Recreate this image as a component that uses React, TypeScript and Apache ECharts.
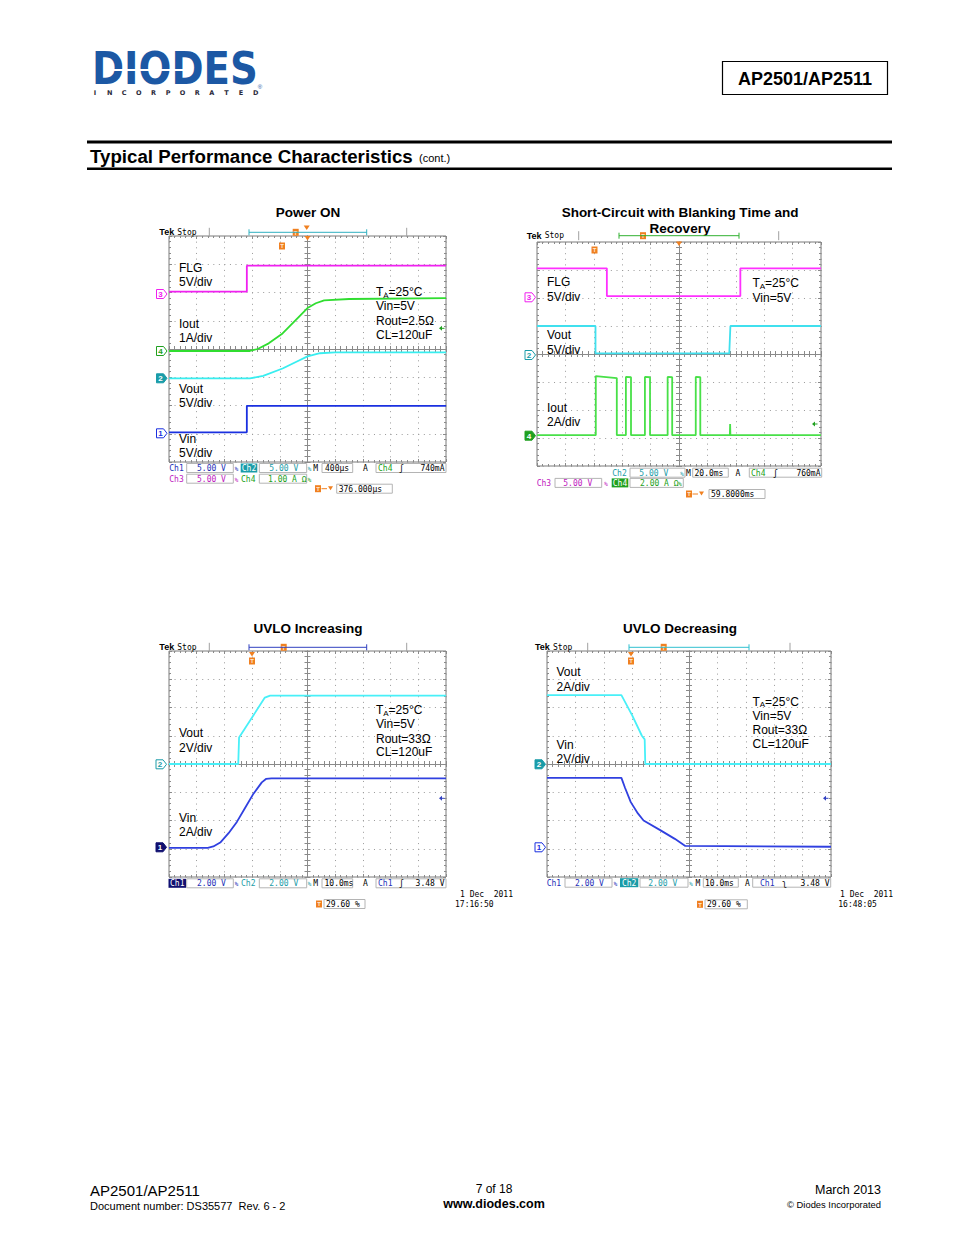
import React, { useEffect, useRef } from 'react';
import * as echarts from 'echarts';

// ===== Trace data, in graticule divisions measured from the screen centre =====
// Power ON  (M 400 µs/div)
const powerOnFlgT = [-5, -2.19, -2.19, 5];
const powerOnFlgV = [2.03, 2.03, 2.95, 2.95];
const powerOnIoutT = [-5, -2.08, -1.8, -1.4, -0.9, -0.4, 0, 0.3, 0.6, 1.5, 5];
const powerOnIoutV = [-0.07, -0.07, 0.0, 0.2, 0.55, 1.05, 1.45, 1.62, 1.72, 1.77, 1.8];
const powerOnVoutT = [-5, -2.08, -1.6, -0.9, -0.4, 0, 0.45, 1, 5];
const powerOnVoutV = [-1.04, -1.04, -0.95, -0.69, -0.45, -0.26, -0.15, -0.12, -0.12];
const powerOnVinT = [-5, -2.19, -2.19, 5];
const powerOnVinV = [-2.95, -2.95, -2.01, -2.01];

// Short-circuit with blanking time and recovery  (M 20.0 ms/div)
const scFlgT = [-5, -2.54, -2.54, 2.16, 2.16, 5];
const scFlgV = [3.06, 3.06, 2.07, 2.07, 3.06, 3.06];
const scVoutT = [-5, -2.94, -2.94, 1.77, 1.81, 5];
const scVoutV = [1.0, 1.0, 0.02, 0.02, 1.0, 1.0];
const scIoutT = [-5, -2.93, -2.93, -2.19, -2.19, -1.87, -1.87, -1.69, -1.69, -1.2, -1.2, -1.02, -1.02,
  -0.4, -0.4, -0.24, -0.24, 0.59, 0.59, 0.75, 0.75, 1.79, 1.8, 1.81, 5];
const scIoutV = [-2.9, -2.9, -0.79, -0.86, -2.9, -2.9, -0.82, -0.83, -2.9, -2.9, -0.82, -0.83, -2.9,
  -2.9, -0.82, -0.83, -2.9, -2.9, -0.82, -0.83, -2.9, -2.9, -2.5, -2.9, -2.9];

// UVLO increasing  (M 10.0 ms/div)
const uvloIncVoutT = [-5, -2.5, -2.47, -1.54, -1.35, 5];
const uvloIncVoutV = [0, 0, 0.94, 2.35, 2.42, 2.42];
const uvloIncVinT = [-5, -3.6, -3.4, -3.15, -2.85, -2.55, -2.25, -1.95, -1.65, -1.5, -1.3, 5];
const uvloIncVinV = [-2.97, -2.97, -2.92, -2.78, -2.45, -2.05, -1.55, -1.05, -0.65, -0.53, -0.51, -0.51];

// UVLO decreasing  (M 10.0 ms/div)
const uvloDecVoutT = [-5, -2.38, -2.0, -1.66, -1.56, -1.54, 5];
const uvloDecVoutV = [2.44, 2.44, 1.72, 1.0, 0.87, 0.0, 0.0];
const uvloDecVinT = [-5, -2.38, -2.25, -2.05, -1.8, -1.6, -1.0, -0.5, -0.13, 5];
const uvloDecVinV = [-0.49, -0.49, -0.85, -1.35, -1.75, -2.0, -2.35, -2.65, -2.9, -2.93];

// ===== Styling =====
const SANS = '"Liberation Sans", Arial, Helvetica, sans-serif';
const MONO = '"DejaVu Sans Mono", "Liberation Mono", monospace';
const MAGENTA = '#f020f0';
const GREEN = '#30dd30';
const CYAN = '#38eef0';
const BLUE = '#1a30e0';
const TEAL = '#1a9ca8';
const RD_BLUE = '#1c2fb8';
const RD_MAG = '#c020c0';
const RD_GREEN = '#20a020';
const NAVY = '#101070';
const ORANGE = '#f08020';
const GRAY = '#8a8a8a';

const scopeRects = [
  { left: 169, top: 236, width: 277, height: 226 },
  { left: 537, top: 242, width: 284, height: 224 },
  { left: 169, top: 651, width: 277, height: 226 },
  { left: 547, top: 651, width: 284, height: 226 },
];

const scopeTraces = [
  [
    { t: powerOnFlgT, v: powerOnFlgV, color: MAGENTA },
    { t: powerOnIoutT, v: powerOnIoutV, color: GREEN },
    { t: powerOnVoutT, v: powerOnVoutV, color: CYAN },
    { t: powerOnVinT, v: powerOnVinV, color: BLUE },
  ],
  [
    { t: scFlgT, v: scFlgV, color: '#ff30ff' },
    { t: scVoutT, v: scVoutV, color: '#40e0ee' },
    { t: scIoutT, v: scIoutV, color: '#48e048' },
  ],
  [
    { t: uvloIncVoutT, v: uvloIncVoutV, color: '#48f0f8' },
    { t: uvloIncVinT, v: uvloIncVinV, color: '#3040e0' },
  ],
  [
    { t: uvloDecVoutT, v: uvloDecVoutV, color: '#48f0f8' },
    { t: uvloDecVinT, v: uvloDecVinV, color: '#3040e0' },
  ],
];

const pairs = (t: number[], v: number[]) => t.map((x, i) => [x, v[i]]);

function buildAxes() {
  const grid: any[] = [];
  const xAxis: any[] = [];
  const yAxis: any[] = [];
  const tickStyle = { color: GRAY, width: 1 };
  scopeRects.forEach((r, s) => {
    const g0 = 2 * s;
    const g1 = 2 * s + 1;
    grid.push({ ...r, show: false });
    grid.push({ ...r, show: true, borderColor: '#7a7a7a', borderWidth: 1, backgroundColor: 'transparent' });
    const dx = r.width / 10 / 5 - 1;
    const dy = r.height / 8 / 5 - 1;
    const centre = (pos: string, isX: boolean, split: boolean, gi: number) => ({
      type: 'value', gridIndex: gi, position: pos,
      min: isX ? -5 : -4, max: isX ? 5 : 4, interval: 1,
      axisLine: { show: true, onZero: true, lineStyle: { color: GRAY, width: 1 } },
      axisTick: { show: true, length: 3, lineStyle: tickStyle },
      minorTick: { show: true, splitNumber: 5, length: 3, lineStyle: tickStyle },
      axisLabel: { show: false },
      splitLine: { show: split, lineStyle: { color: '#9a9a9a', width: 1, type: [1, isX ? dy : dx] } },
    });
    const edge = (pos: string, isX: boolean, gi: number) => ({
      type: 'value', gridIndex: gi, position: pos,
      min: isX ? -5 : -4, max: isX ? 5 : 4, interval: 1,
      axisLine: { show: false, onZero: false },
      axisTick: { show: true, inside: true, length: 3, lineStyle: tickStyle },
      minorTick: { show: true, splitNumber: 5, length: 2, lineStyle: tickStyle },
      axisLabel: { show: false },
      splitLine: { show: false },
    });
    xAxis.push(centre('bottom', true, true, g0), centre('top', true, false, g0), edge('bottom', true, g1), edge('top', true, g1));
    yAxis.push(centre('left', false, true, g0), centre('right', false, false, g0), edge('left', false, g1), edge('right', false, g1));
  });
  return { grid, xAxis, yAxis };
}

function buildSeries() {
  const series: any[] = [];
  scopeTraces.forEach((traces, s) => {
    traces.forEach((tr) => {
      series.push({
        type: 'line', xAxisIndex: 4 * s, yAxisIndex: 4 * s,
        data: pairs(tr.t, tr.v), showSymbol: false, symbol: 'none', silent: true, z: 5, clip: true,
        lineStyle: { color: tr.color, width: 1.8 },
      });
    });
  });
  return series;
}

function buildGraphics() {
  const G: any[] = [];
  const text = (x: number, y: number, s: string, font: string, fill = '#000', align = 'left', extra: any = {}) =>
    G.push({ type: 'text', x, y, z: 100, silent: true, ...extra,
      style: { text: s, font, fill, textAlign: align, textVerticalAlign: 'middle' } });
  const box = (x: number, y: number, w: number, h: number, stroke: string, fill: string, lw = 1) =>
    G.push({ type: 'rect', z: 99, silent: true, shape: { x, y, width: w, height: h }, style: { stroke, fill, lineWidth: lw } });
  const seg = (x1: number, y1: number, x2: number, y2: number, stroke: string, lw = 1) =>
    G.push({ type: 'line', z: 101, silent: true, shape: { x1, y1, x2, y2 }, style: { stroke, lineWidth: lw } });
  const poly = (pts: number[][], fill: string, stroke = 'none') =>
    G.push({ type: 'polygon', z: 100, silent: true, shape: { points: pts }, style: { fill, stroke, lineWidth: 1 } });

  const F12 = `12px ${SANS}`;
  const R8 = `8px ${MONO}`;

  const ta = (x: number, y: number) => {
    text(x, y, 'T', F12);
    text(x + 7.3, y + 3, 'A', `8px ${SANS}`);
    text(x + 12.6, y, '=25°C', F12);
  };
  const chMark = (cx: number, cy: number, d: string, color: string, filled: boolean) => {
    poly([[cx - 4.5, cy - 4.5], [cx + 2.5, cy - 4.5], [cx + 6, cy], [cx + 2.5, cy + 4.5], [cx - 4.5, cy + 4.5]],
      filled ? color : '#fff', color);
    text(cx - 0.5, cy + 0.5, d, `bold 8px ${SANS}`, filled ? '#fff' : color, 'center');
  };
  const orangeT = (cx: number, cy: number) => {
    box(cx - 3, cy - 3.5, 6, 7, 'none', ORANGE);
    text(cx, cy + 0.3, 'T', `bold 6px ${SANS}`, '#ffe8d0', 'center');
  };
  const downTri = (cx: number, cy: number) => poly([[cx - 3, cy - 2.5], [cx + 3, cy - 2.5], [cx, cy + 2]], ORANGE);
  const trigArrow = (x: number, y: number, color: string) => {
    poly([[x - 3, y], [x, y - 2.5], [x, y + 2.5]], color);
    seg(x, y, x + 2.5, y, color);
  };
  const header = (tekX: number, y: number, t1: number, t2: number, b1: number, b2: number, bc: string, tX: number) => {
    text(tekX, y, 'Tek', `bold 9px ${SANS}`);
    text(tekX + 18, y, 'Stop', R8);
    seg(t1, y - 4.5, t1, y + 4.5, '#a0a0a0');
    seg(t2, y - 4.5, t2, y + 4.5, '#a0a0a0');
    seg(b1, y - 3, b1, y + 3, bc);
    seg(b2, y - 3, b2, y + 3, bc);
    seg(b1, y, b2, y, bc);
    orangeT(tX, y);
  };
  const rbox = (x1: number, x2: number, yc: number) => box(x1, yc - 4.5, x2 - x1, 9, '#b4b4b4', '#fff');
  const rt = (x: number, yc: number, s: string, fill: string, align = 'left') => text(x, yc + 0.5, s, R8, fill, align);
  const bw = (x: number, yc: number, fill: string) => text(x, yc + 0.5, '%', `6px ${MONO}`, fill, 'center');
  const rfill = (x1: number, x2: number, yc: number, s: string, bg: string) => {
    box(x1, yc - 4.5, x2 - x1, 9, 'none', bg);
    rt((x1 + x2) / 2, yc, s, '#fff', 'center');
  };
  const tRow = (tx: number, yc: number, b1: number, b2: number, s: string, arrow: boolean) => {
    orangeT(tx, yc);
    if (arrow) {
      seg(tx + 3.5, yc, tx + 9, yc, ORANGE);
      poly([[tx + 10, yc - 2.5], [tx + 15, yc - 2.5], [tx + 12.5, yc + 1.5]], ORANGE);
    }
    rbox(b1, b2, yc);
    rt(b1 + 2, yc, s, '#000');
  };
  const title = (cx: number, y: number, s: string) => text(cx, y, s, `bold 13.5px ${SANS}`, '#000', 'center');

  // ---------- Page header ----------
  text(92, 68.5, 'DIODES', `bold 45px "DejaVu Sans", ${SANS}`, '#1c58a4', 'left', { scaleX: 0.86 });
  seg(104, 70, 188, 70, '#ffffff', 2);
  'INCORPORATED'.split('').forEach((c, i) => text(95 + i * 14.6, 92.5, c, `bold 6.5px "DejaVu Sans", ${SANS}`, '#2a2a3a', 'center'));
  text(260, 87, '®', `6px ${SANS}`, '#1c58a4', 'center');
  box(722.5, 61.5, 165, 33, '#000', '#fff', 1.2);
  text(805, 78.5, 'AP2501/AP2511', `bold 18px ${SANS}`, '#000', 'center');
  box(87, 140.5, 805, 3, 'none', '#000');
  box(87, 167.5, 805, 2.6, 'none', '#000');
  text(90, 156, 'Typical Performance Characteristics', `bold 18.7px ${SANS}`);
  text(419, 158, '(cont.)', `11px ${SANS}`);

  // ---------- Scope 1: Power ON ----------
  title(308, 212, 'Power ON');
  header(159.3, 232.3, 209.3, 406.7, 249, 366.7, '#30b0c0', 295.7);
  downTri(306.7, 228);
  orangeT(282, 246);
  downTri(307.5, 238.5);
  chMark(161, 294, '3', MAGENTA, false);
  chMark(161, 351, '4', RD_GREEN, false);
  chMark(161, 378.3, '2', TEAL, true);
  chMark(161, 433.3, '1', BLUE, false);
  text(179, 268, 'FLG', F12); text(179, 282, '5V/div', F12);
  text(179, 324, 'Iout', F12); text(179, 338, '1A/div', F12);
  text(179, 389, 'Vout', F12); text(179, 403, '5V/div', F12);
  text(179, 439, 'Vin', F12); text(179, 453, '5V/div', F12);
  ta(376, 292); text(376, 306, 'Vin=5V', F12); text(376, 320.5, 'Rout=2.5Ω', F12); text(376, 334.5, 'CL=120uF', F12);
  trigArrow(442, 328.3, RD_GREEN);
  // readout
  rt(169.3, 468, 'Ch1', RD_BLUE); rbox(186.7, 233.3, 468); rt(197, 468, '5.00 V', RD_BLUE); bw(236.5, 468, RD_BLUE);
  rfill(240.7, 257.3, 468, 'Ch2', TEAL); rbox(259.3, 306.7, 468); rt(269.3, 468, '5.00 V', TEAL); bw(309.5, 468, TEAL);
  rt(313.3, 468, 'M', '#000'); rbox(322, 352.7, 468); rt(325, 468, '400µs', '#000');
  rt(363, 468, 'A', '#000'); rbox(376, 446, 468); rt(378, 468, 'Ch4', RD_GREEN); rt(399, 468, 'ʃ', '#000');
  rt(444.5, 468, '740mA', '#000', 'right');
  rt(169.3, 478.7, 'Ch3', RD_MAG); rbox(186.7, 233.3, 478.7); rt(197, 478.7, '5.00 V', RD_MAG); bw(236.5, 478.7, RD_MAG);
  rt(241, 478.7, 'Ch4', RD_GREEN); rbox(259.3, 306.7, 478.7); rt(268, 478.7, '1.00 A Ω', RD_GREEN); bw(309.5, 478.7, RD_GREEN);
  tRow(318, 488.7, 336.7, 392.3, '376.000µs', true);

  // ---------- Scope 2: Short-circuit ----------
  title(680, 212, 'Short-Circuit with Blanking Time and');
  title(680, 228.3, 'Recovery');
  header(526.7, 235.7, 578.7, 778.7, 619, 739, '#30b030', 643);
  orangeT(594.5, 250);
  downTri(679, 244);
  chMark(529.5, 297.3, '3', MAGENTA, false);
  chMark(529.5, 355, '2', TEAL, false);
  chMark(529.5, 435.7, '4', RD_GREEN, true);
  text(547, 282, 'FLG', F12); text(547, 297, '5V/div', F12);
  text(547, 335, 'Vout', F12); text(547, 350, '5V/div', F12);
  text(547, 408, 'Iout', F12); text(547, 422, '2A/div', F12);
  ta(752.5, 283.3); text(752.5, 297.5, 'Vin=5V', F12);
  trigArrow(815, 424, RD_GREEN);
  rt(612.3, 472.7, 'Ch2', TEAL); rbox(630, 685, 472.7); rt(639.3, 472.7, '5.00 V', TEAL); bw(682, 472.7, TEAL);
  rt(686, 472.7, 'M', '#000'); rbox(692.7, 728.3, 472.7); rt(694.5, 472.7, '20.0ms', '#000');
  rt(735.5, 472.7, 'A', '#000'); rbox(749.3, 821.7, 472.7); rt(751, 472.7, 'Ch4', RD_GREEN); rt(773, 472.7, 'ʃ', '#000');
  rt(820.5, 472.7, '760mA', '#000', 'right');
  rt(536.7, 482.9, 'Ch3', RD_MAG); rbox(555, 601.7, 482.9); rt(563.3, 482.9, '5.00 V', RD_MAG); bw(606, 482.9, RD_MAG);
  rfill(611.7, 628.3, 482.9, 'Ch4', RD_GREEN); rbox(630, 683.3, 482.9); rt(640, 482.9, '2.00 A Ω', RD_GREEN); bw(680, 482.9, RD_GREEN);
  tRow(689, 494, 709, 765, '59.8000ms', true);

  // ---------- Scope 3: UVLO Increasing ----------
  title(308, 628.3, 'UVLO Increasing');
  header(159.3, 647.3, 209.3, 406.7, 249, 366.7, '#3040c0', 283.7);
  orangeT(252, 661);
  downTri(252, 654.5);
  chMark(160.5, 764.3, '2', TEAL, false);
  chMark(160.5, 847.3, '1', NAVY, true);
  text(179, 733.3, 'Vout', F12); text(179, 748, '2V/div', F12);
  text(179, 817.7, 'Vin', F12); text(179, 832, '2A/div', F12);
  ta(376, 710); text(376, 724, 'Vin=5V', F12); text(376, 738.5, 'Rout=33Ω', F12); text(376, 752.3, 'CL=120uF', F12);
  trigArrow(442, 798.3, '#3040c0');
  rfill(168.5, 186, 883.3, 'Ch1', NAVY); rbox(186.7, 233.3, 883.3); rt(197, 883.3, '2.00 V', RD_BLUE); bw(236.5, 883.3, RD_BLUE);
  rt(241, 883.3, 'Ch2', TEAL); rbox(259.3, 306.7, 883.3); rt(269.3, 883.3, '2.00 V', TEAL); bw(309.5, 883.3, TEAL);
  rt(313.3, 883.3, 'M', '#000'); rbox(322, 352.7, 883.3); rt(324.5, 883.3, '10.0ms', '#000');
  rt(363, 883.3, 'A', '#000'); rbox(376, 446, 883.3); rt(378, 883.3, 'Ch1', RD_BLUE); rt(399, 883.3, 'ʃ', '#000');
  rt(444.5, 883.3, '3.48 V', '#000', 'right');
  tRow(319, 904, 324, 365, '29.60 %', false);
  rt(460, 894.3, '1 Dec  2011', '#000'); rt(455, 904.3, '17:16:50', '#000');

  // ---------- Scope 4: UVLO Decreasing ----------
  title(680, 628.3, 'UVLO Decreasing');
  header(535, 647.3, 587.7, 790, 629, 749, '#30c0d0', 663.7);
  orangeT(631, 661);
  downTri(631, 654.5);
  chMark(539.5, 764.3, '2', TEAL, true);
  chMark(539.5, 847.3, '1', BLUE, false);
  text(556.5, 672.3, 'Vout', F12); text(556.5, 686.5, '2A/div', F12);
  text(556.5, 745, 'Vin', F12); text(556.5, 759, '2V/div', F12);
  ta(752.5, 701.5); text(752.5, 715.5, 'Vin=5V', F12); text(752.5, 730, 'Rout=33Ω', F12); text(752.5, 744, 'CL=120uF', F12);
  trigArrow(826, 798.3, '#3040c0');
  rt(546.7, 882.7, 'Ch1', RD_BLUE); rbox(565, 612, 882.7); rt(575, 882.7, '2.00 V', RD_BLUE); bw(615.5, 882.7, RD_BLUE);
  rfill(620, 638.3, 882.7, 'Ch2', TEAL); rbox(640, 688, 882.7); rt(648.3, 882.7, '2.00 V', TEAL); bw(691, 882.7, TEAL);
  rt(695.5, 882.7, 'M', '#000'); rbox(703.3, 738.3, 882.7); rt(705, 882.7, '10.0ms', '#000');
  rt(745, 882.7, 'A', '#000'); rbox(752.7, 830.7, 882.7); rt(760, 882.7, 'Ch1', RD_BLUE); rt(782, 882.7, 'ʅ', '#000');
  rt(829.5, 882.7, '3.48 V', '#000', 'right');
  tRow(700, 904.3, 705, 747.3, '29.60 %', false);
  rt(840, 894.3, '1 Dec  2011', '#000'); rt(838.3, 904.3, '16:48:05', '#000');

  // ---------- Footer ----------
  text(90, 1190, 'AP2501/AP2511', `15px ${SANS}`);
  text(90, 1206, 'Document number: DS35577  Rev. 6 - 2', `11px ${SANS}`);
  text(494, 1189, '7 of 18', `12px ${SANS}`, '#000', 'center');
  text(494, 1204, 'www.diodes.com', `bold 12.5px ${SANS}`, '#000', 'center');
  text(881, 1190, 'March 2013', `12.5px ${SANS}`, '#000', 'right');
  text(881, 1204, '© Diodes Incorporated', `9.4px ${SANS}`, '#000', 'right');
  return G;
}

export default function App() {
  const ref = useRef<HTMLDivElement>(null);
  useEffect(() => {
    if (!ref.current) return;
    const chart = echarts.init(ref.current, undefined, { renderer: 'svg' });
    const axes = buildAxes();
    chart.setOption({
      animation: false,
      backgroundColor: '#ffffff',
      ...axes,
      series: buildSeries(),
      graphic: { elements: buildGraphics() },
    });
    return () => chart.dispose();
  }, []);
  return <div ref={ref} style={{ position: 'absolute', left: 0, top: 0, width: 954, height: 1235 }} />;
}
